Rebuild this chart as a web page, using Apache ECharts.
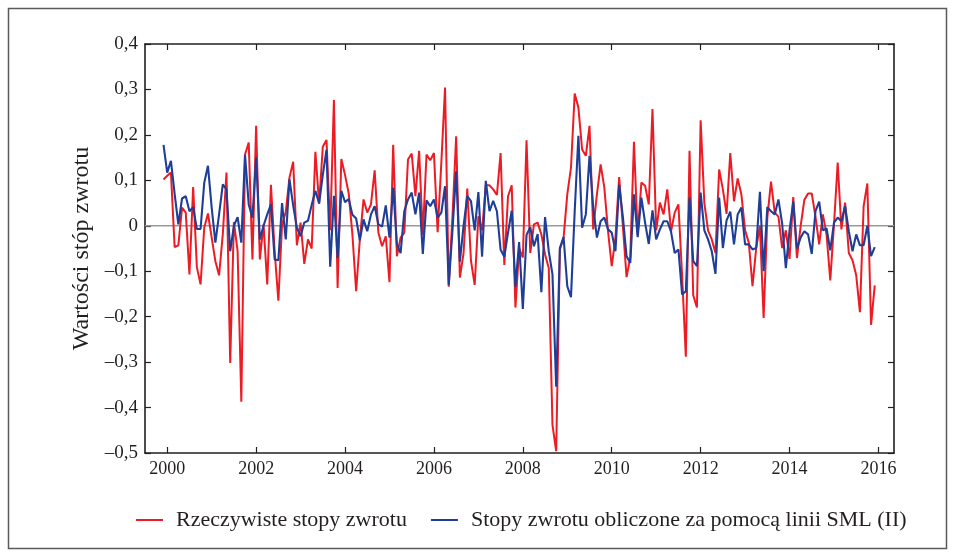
<!DOCTYPE html>
<html>
<head>
<meta charset="utf-8">
<script src="https://cdn.jsdelivr.net/npm/echarts@6/dist/echarts.min.js"></script>
<style>
html,body{margin:0;padding:0;background:#fff;}
#chart{width:955px;height:559px;}
</style>
</head>
<body>
<div id="chart"></div>
<script>
// Monthly observations, first month: December 1999
var startYear = 1999;
var startMonth = 12;

var actualReturns = [
 0.102, 0.110, 0.117, -0.047, -0.043, 0.040, 0.029, -0.107, 0.085, -0.091,
 -0.129, -0.004, 0.027, -0.026, -0.078, -0.109, -0.019, 0.117, -0.302, 0.008,
 -0.056, -0.387, 0.157, 0.183, -0.074, 0.220, -0.074, 0.003, -0.129, 0.090,
 -0.056, -0.165, 0.003, 0.030, 0.106, 0.141, -0.043, 0.007, -0.084, -0.030,
 -0.050, 0.163, 0.049, 0.174, 0.189, -0.010, 0.277, -0.137, 0.147, 0.112,
 0.071, -0.020, -0.144, -0.030, 0.058, 0.029, 0.047, 0.122, -0.015, -0.045,
 -0.023, -0.124, 0.178, -0.067, -0.026, -0.015, 0.146, 0.159, 0.065, 0.165,
 -0.020, 0.157, 0.144, 0.160, -0.014, 0.139, 0.304, -0.134, 0.020, 0.197,
 -0.114, -0.060, 0.082, -0.077, -0.130, 0.021, -0.010, 0.089, 0.089, 0.080,
 0.068, 0.160, -0.086, 0.065, 0.089, -0.180, -0.050, -0.070, 0.188, -0.060,
 0.003, 0.007, -0.019, -0.063, -0.093, -0.438, -0.496, -0.052, -0.026, 0.069,
 0.128, 0.291, 0.260, 0.168, 0.154, 0.220, -0.008, 0.069, 0.135, 0.084,
 -0.012, -0.089, -0.026, 0.107, 0.000, -0.113, -0.070, 0.185, -0.020, 0.095,
 0.088, 0.047, 0.257, -0.010, 0.051, 0.025, 0.080, -0.012, 0.029, 0.047,
 -0.110, -0.288, 0.165, -0.153, -0.180, 0.232, 0.050, -0.010, -0.030, -0.060,
 0.124, 0.080, 0.026, 0.160, 0.054, 0.104, 0.069, -0.010, -0.037, -0.133,
 -0.049, 0.000, -0.203, 0.018, 0.097, 0.029, 0.020, -0.049, -0.010, -0.073,
 0.063, -0.071, 0.000, 0.057, 0.071, 0.071, 0.020, -0.041, 0.025, -0.020,
 -0.120, 0.003, 0.139, -0.008, 0.051, -0.060, -0.076, -0.109, -0.190, 0.043,
 0.093, -0.218, -0.131
];

var smlReturns = [
 0.178, 0.117, 0.143, 0.070, 0.003, 0.060, 0.065, 0.032, 0.041, -0.007,
 -0.007, 0.095, 0.132, 0.040, -0.037, 0.025, 0.091, 0.080, -0.056, 0.000,
 0.019, -0.037, 0.156, 0.047, 0.018, 0.150, -0.030, 0.000, 0.025, 0.047,
 -0.074, -0.076, 0.050, -0.030, 0.102, 0.045, -0.004, -0.023, 0.007, 0.011,
 0.046, 0.077, 0.049, 0.112, 0.167, -0.090, 0.066, -0.071, 0.077, 0.052,
 0.059, 0.024, 0.016, -0.032, 0.014, -0.012, 0.025, 0.043, 0.003, -0.002,
 0.045, -0.026, 0.084, -0.041, -0.060, 0.032, 0.058, 0.073, 0.025, 0.073,
 -0.062, 0.056, 0.043, 0.058, 0.018, 0.029, 0.087, -0.130, -0.010, 0.120,
 -0.079, 0.000, 0.065, 0.054, -0.010, 0.074, -0.068, 0.099, 0.032, 0.055,
 0.032, -0.053, -0.068, -0.015, 0.033, -0.134, -0.036, -0.183, -0.020, -0.003,
 -0.045, -0.018, -0.146, 0.019, -0.056, -0.107, -0.354, -0.049, -0.025, -0.133,
 -0.157, 0.032, 0.198, -0.004, 0.025, 0.154, 0.040, -0.026, 0.010, 0.018,
 -0.008, -0.015, -0.056, 0.090, 0.020, -0.067, -0.082, 0.069, -0.025, 0.062,
 0.007, -0.040, 0.034, -0.030, -0.008, 0.010, 0.010, -0.013, -0.060, -0.052,
 -0.151, -0.144, 0.062, -0.078, -0.089, 0.073, -0.010, -0.030, -0.056, -0.106,
 0.062, -0.049, 0.012, 0.031, -0.041, 0.025, 0.040, -0.041, -0.041, -0.052,
 -0.049, 0.075, -0.100, 0.041, 0.032, 0.025, 0.058, 0.005, -0.093, -0.010,
 0.053, -0.050, -0.026, -0.012, -0.019, -0.062, 0.032, 0.053, -0.010, -0.006,
 -0.054, 0.007, 0.018, 0.010, 0.043, -0.012, -0.056, -0.019, -0.043, -0.043,
 0.000, -0.067, -0.047
];

var xTickYears = [2000, 2002, 2004, 2006, 2008, 2010, 2012, 2014, 2016];
var yTicks = [-0.5, -0.4, -0.3, -0.2, -0.1, 0, 0.1, 0.2, 0.3, 0.4];

var seriesNames = ['Rzeczywiste stopy zwrotu', 'Stopy zwrotu obliczone za pomocą linii SML (II)'];
var yAxisName = 'Wartości stóp zwrotu';

function monthTime(i) {
  var m = (startMonth - 1) + i;
  return startYear + Math.floor(m / 12) + (m % 12) / 12;
}
function pairs(arr) {
  return arr.map(function (v, i) { return [monthTime(i), v]; });
}

var FONT = '"Liberation Serif", "Times New Roman", serif';
var INK = '#231f20';
var XMIN = 1999.5, XMAX = 2016.35;

function yFmt(v) {
  var r = Math.round(v * 10) / 10;
  if (r === 0) return '0';
  var s = Math.abs(r).toFixed(1).replace('.', ',');
  return (r < 0 ? '\u2013' : '') + s;
}

var chart = echarts.init(document.getElementById('chart'), null, { renderer: 'canvas' });
chart.setOption({
  backgroundColor: '#ffffff',
  animation: false,
  graphic: [{
    type: 'rect',
    shape: { x: 8.5, y: 8.5, width: 938, height: 540 },
    style: { fill: 'none', stroke: '#5a5a5a', lineWidth: 1.5 },
    silent: true
  }],
  grid: { left: 145, right: 61, top: 44, bottom: 106, containLabel: false },
  legend: {
    left: 131, top: 504,
    icon: 'rect', itemWidth: 27, itemHeight: 2, itemGap: 24,
    textStyle: { fontFamily: FONT, fontSize: 22, color: INK, padding: [0, 0, 0, 8] },
    data: seriesNames
  },
  xAxis: [{
    type: 'value', min: XMIN, max: XMAX, position: 'bottom',
    axisLine: { show: true, onZero: false, lineStyle: { color: INK, width: 1.6 } },
    axisTick: { show: true, inside: true, length: 6, customValues: xTickYears, lineStyle: { color: INK, width: 1.2 } },
    axisLabel: { show: true, customValues: xTickYears, fontFamily: FONT, fontSize: 18, color: INK, margin: 7,
      formatter: function (v) { return String(Math.round(v)); } },
    splitLine: { show: false }
  }, {
    type: 'value', min: XMIN, max: XMAX, position: 'top',
    axisLine: { show: true, onZero: false, lineStyle: { color: INK, width: 1.6 } },
    axisTick: { show: true, inside: true, length: 6, customValues: xTickYears, lineStyle: { color: INK, width: 1.2 } },
    axisLabel: { show: false },
    splitLine: { show: false }
  }],
  yAxis: [{
    type: 'value', min: -0.5, max: 0.4, interval: 0.1, position: 'left',
    name: yAxisName, nameLocation: 'middle', nameGap: 46, nameRotate: 90,
    nameTextStyle: { fontFamily: FONT, fontSize: 24, color: INK },
    axisLine: { show: true, onZero: false, lineStyle: { color: INK, width: 1.6 } },
    axisTick: { show: true, inside: true, length: 6, lineStyle: { color: INK, width: 1.2 } },
    axisLabel: { show: true, fontFamily: FONT, fontSize: 19, color: INK, margin: 7, formatter: yFmt },
    splitLine: { show: false }
  }, {
    type: 'value', min: -0.5, max: 0.4, interval: 0.1, position: 'right',
    axisLine: { show: true, onZero: false, lineStyle: { color: INK, width: 1.6 } },
    axisTick: { show: true, inside: true, length: 6, lineStyle: { color: INK, width: 1.2 } },
    axisLabel: { show: false },
    splitLine: { show: false }
  }],
  series: [{
    name: 'zero', type: 'line', silent: true, z: 1,
    data: [[XMIN, 0], [XMAX, 0]],
    showSymbol: false, symbol: 'none',
    lineStyle: { color: '#9a9a9a', width: 1.5 }
  }, {
    name: seriesNames[0], type: 'line', z: 2,
    data: pairs(actualReturns),
    showSymbol: false, symbol: 'none',
    itemStyle: { color: '#ed1c24' },
    lineStyle: { color: '#ed1c24', width: 2 }
  }, {
    name: seriesNames[1], type: 'line', z: 3,
    data: pairs(smlReturns),
    showSymbol: false, symbol: 'none',
    itemStyle: { color: '#1f3e98' },
    lineStyle: { color: '#1f3e98', width: 2.1 }
  }]
});
</script>
</body>
</html>
